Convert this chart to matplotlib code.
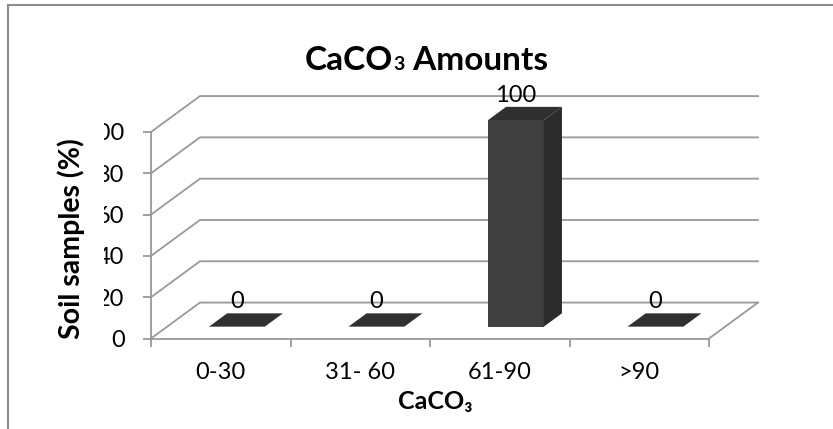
import matplotlib
matplotlib.use("Agg")
import matplotlib.pyplot as plt
from matplotlib.patches import Polygon
from matplotlib.lines import Line2D
from matplotlib.offsetbox import TextArea, HPacker, AnnotationBbox

# ---- data ----
categories = ["0-30", "31- 60", "61-90", ">90"]
values = [0, 0, 100, 0]
yticks = [0, 20, 40, 60, 80, 100]
title_parts = ["CaCO", "3", " Amounts"]
xlabel = "CaCO₃"
ylabel = "Soil samples (%)"

# ---- style ----
plt.rcParams['font.family'] = ['Lato', 'DejaVu Sans']

GRID = "#999999"
FRONT = "#404040"
SIDE = "#2b2b2b"
TOP = "#303030"
BORDER = "#8c8c8c"

W, H = 833, 429
fig = plt.figure(figsize=(W / 100, H / 100), dpi=100)

# front plane of the 3-D plot area
ax = fig.add_axes([151 / W, (H - 338.5) / H, 558 / W, 206.5 / H])
ax.set_xlim(0, len(categories))
ax.set_ylim(0, 100)
ax.set_facecolor("none")

# oblique depth vector of the floor (data units) and bar depth range
DX, DY = 0.351, 17.4
F0, F1 = 0.33, 0.70
HALF = 0.2


def proj(x, y, d):
    return (x + d * DX, y + d * DY)


# back wall gridlines with their diagonal side-wall segments
n = len(categories)
for t in yticks:
    xs = [0, proj(0, t, 1)[0], proj(n, t, 1)[0]]
    ys = [t, proj(0, t, 1)[1], proj(n, t, 1)[1]]
    ax.plot(xs, ys, color=GRID, lw=1.3, clip_on=False, zorder=1,
            solid_joinstyle="miter")
# right edge of the floor
ax.plot([n, proj(n, 0, 1)[0]], [0, proj(n, 0, 1)[1]], color=GRID, lw=1.3,
        clip_on=False, zorder=1)

# columns
for i, v in enumerate(values):
    x0, x1 = i + 0.5 - HALF, i + 0.5 + HALF
    if v > 0:
        front = [proj(x0, 0, F0), proj(x1, 0, F0), proj(x1, v, F0), proj(x0, v, F0)]
        side = [proj(x1, 0, F0), proj(x1, 0, F1), proj(x1, v, F1), proj(x1, v, F0)]
        ax.add_patch(Polygon(front, closed=True, fc=FRONT, ec="none",
                             clip_on=False, zorder=3))
        ax.add_patch(Polygon(side, closed=True, fc=SIDE, ec="none",
                             clip_on=False, zorder=3))
    top = [proj(x0, v, F0), proj(x1, v, F0), proj(x1, v, F1), proj(x0, v, F1)]
    ax.add_patch(Polygon(top, closed=True, fc=TOP, ec="none",
                         clip_on=False, zorder=3))
    cx, cy = proj(i + 0.5, v, F0)
    ax.annotate(str(v), (cx, cy), xytext=(0, 13.3), textcoords="offset points",
                ha="center", va="baseline", fontsize=17, color="black",
                zorder=4, annotation_clip=False)

# axes
for s in ("top", "right"):
    ax.spines[s].set_visible(False)
for s in ("left", "bottom"):
    ax.spines[s].set_color(GRID)
    ax.spines[s].set_linewidth(1.3)
    ax.spines[s].set_zorder(2)

ax.set_yticks(yticks)
ax.set_yticklabels([str(t) for t in yticks])
ax.tick_params(axis="y", length=6, width=1.3, color=GRID, direction="out",
               pad=13, labelsize=17)
ax.set_xticks(range(n + 1))
ax.set_xticklabels([])
ax.set_xticks([i + 0.5 for i in range(n)], minor=True)
ax.set_xticklabels(categories, minor=True)
ax.tick_params(axis="x", which="major", length=6, width=1.3, color=GRID,
               direction="out")
ax.tick_params(axis="x", which="minor", length=0, pad=17, labelsize=17)

# titles
parts = [TextArea(title_parts[0], textprops=dict(fontsize=24, fontweight="bold")),
         TextArea(title_parts[1], textprops=dict(fontsize=14, fontweight="bold")),
         TextArea(title_parts[2], textprops=dict(fontsize=24, fontweight="bold"))]
packer = HPacker(children=parts, align="baseline", pad=0, sep=0)
ab = AnnotationBbox(packer, (426.5 / W, 1 - 61 / H), xycoords="figure fraction",
                    frameon=False, box_alignment=(0.5, 0.5), zorder=5)
fig.add_artist(ab)

fig.text(435 / W, 1 - 402 / H, xlabel, ha="center", va="center", fontsize=18,
         fontweight="bold")
fig.text(71 / W, 1 - 239 / H, ylabel, rotation=90, ha="center", va="center",
         fontsize=20.5, fontweight="bold", zorder=5,
         bbox=dict(fc="white", ec="none", pad=14))

# chart border
fig.add_artist(Line2D([8 / W, 1], [1 - 5 / H, 1 - 5 / H], transform=fig.transFigure,
                      color=BORDER, lw=1.5))
fig.add_artist(Line2D([8 / W, 8 / W], [1 - 5 / H, 0], transform=fig.transFigure,
                      color=BORDER, lw=1.5))

fig.savefig("out.png", dpi=100)
